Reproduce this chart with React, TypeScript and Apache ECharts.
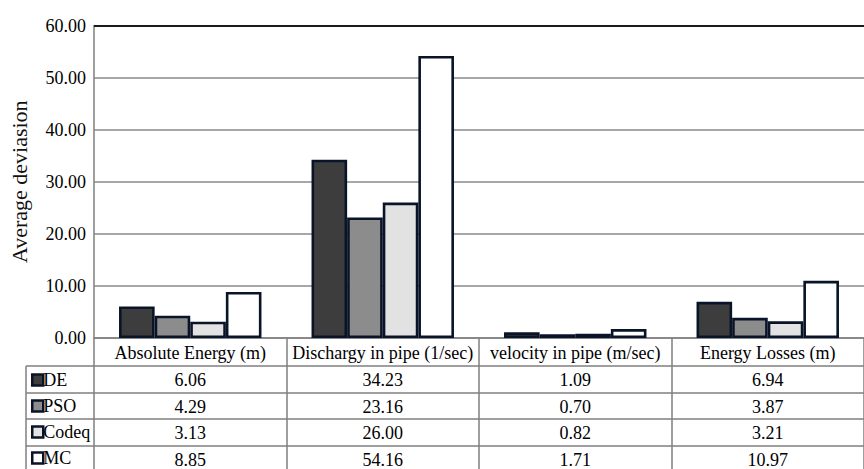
import React, { useEffect, useRef } from "react";
import * as echarts from "echarts";

const categories = [
  "Absolute Energy (m)",
  "Dischargy in pipe (1/sec)",
  "velocity in pipe (m/sec)",
  "Energy Losses (m)",
];
const seriesNames = ["DE", "PSO", "Codeq", "MC"];
const deValues = [6.06, 34.23, 1.09, 6.94];
const psoValues = [4.29, 23.16, 0.7, 3.87];
const codeqValues = [3.13, 26.0, 0.82, 3.21];
const mcValues = [8.85, 54.16, 1.71, 10.97];
const yTicks = [0, 10, 20, 30, 40, 50, 60];

const seriesValues = [deValues, psoValues, codeqValues, mcValues];
const fills = ["#3d3d3d", "#8c8c8c", "#e2e2e2", "#ffffff"];

const FONT = "Liberation Serif";
const FS = 18;
const GRID_LEFT = 92;
const GRID_TOP = 25.5;
const GRID_BOTTOM_Y = 338;
const COL_W = 196;
const TABLE_LEFT = 26;
const ROW_TOPS = [366, 393, 419, 446];
const TABLE_BOTTOM = 472;
const LINE_COLOR = "#7f7f7f";
const BORDER = "#0a1428";

export default function App() {
  const ref = useRef<HTMLDivElement>(null);
  useEffect(() => {
    if (!ref.current) return;
    const chart = echarts.init(ref.current, undefined, { renderer: "svg" });
    const tableRight = GRID_LEFT + COL_W * categories.length;

    const valueAxes = seriesValues.map((vals, i) => ({
      type: "category" as const,
      gridIndex: 0,
      position: "bottom" as const,
      data: vals.map((v) => v.toFixed(2)),
      offset: ROW_TOPS[i] + 14 - 9 - GRID_BOTTOM_Y,
      axisLine: { show: false },
      axisTick: { show: false },
      splitLine: { show: false },
      axisLabel: {
        margin: 0,
        interval: 0,
        color: "#000",
        fontFamily: FONT,
        fontSize: FS,
      },
    }));

    const graphics: any[] = [];
    ROW_TOPS.forEach((y) => {
      graphics.push({
        type: "line",
        shape: { x1: TABLE_LEFT, y1: y, x2: tableRight, y2: y },
        style: { stroke: LINE_COLOR, lineWidth: 1.5 },
      });
    });
    graphics.push({
      type: "line",
      shape: { x1: TABLE_LEFT, y1: ROW_TOPS[0], x2: TABLE_LEFT, y2: TABLE_BOTTOM },
      style: { stroke: LINE_COLOR, lineWidth: 1.5 },
    });

    chart.setOption({
      animation: false,
      backgroundColor: "#ffffff",
      textStyle: { fontFamily: FONT, fontSize: FS, color: "#000" },
      grid: {
        left: GRID_LEFT,
        top: GRID_TOP,
        width: COL_W * categories.length,
        height: GRID_BOTTOM_Y - GRID_TOP,
        containLabel: false,
      },
      legend: {
        orient: "vertical",
        left: 31,
        top: ROW_TOPS[0] + 14 - 9,
        padding: 0,
        height: 120,
        itemWidth: 11,
        itemHeight: 11,
        itemGap: 8,
        icon: "rect",
        data: seriesNames,
        textStyle: {
          fontFamily: FONT,
          fontSize: FS,
          lineHeight: 18,
          color: "#000",
          padding: [0, 0, 0, -5],
        },
        itemStyle: { borderColor: BORDER, borderWidth: 2.5 },
      },
      xAxis: [
        {
          type: "category",
          data: categories,
          position: "bottom",
          boundaryGap: true,
          axisLine: { show: true, lineStyle: { color: LINE_COLOR, width: 1.5 } },
          axisTick: {
            show: true,
            alignWithLabel: false,
            length: TABLE_BOTTOM - GRID_BOTTOM_Y,
            lineStyle: { color: LINE_COLOR, width: 1.5 },
          },
          axisLabel: {
            margin: 6,
            interval: 0,
            color: "#000",
            fontFamily: FONT,
            fontSize: FS,
          },
        },
        ...valueAxes,
      ],
      yAxis: {
        type: "value",
        min: yTicks[0],
        max: yTicks[yTicks.length - 1],
        interval: 10,
        name: "Average deviasion",
        nameLocation: "middle",
        nameGap: 64,
        nameTextStyle: { fontFamily: FONT, fontSize: 22, color: "#111" },
        axisLine: { show: true, lineStyle: { color: LINE_COLOR, width: 1.5 } },
        axisTick: { show: false },
        axisLabel: {
          margin: 8,
          color: "#000",
          fontFamily: FONT,
          fontSize: FS,
          formatter: (v: number) => v.toFixed(2),
        },
        splitLine: { show: true, lineStyle: { color: "#8a8a8a", width: 1.5 } },
      },
      series: seriesNames.map((name, i) => ({
        name,
        type: "bar",
        xAxisIndex: 0,
        data: seriesValues[i],
        barGap: "0%",
        barCategoryGap: "26%",
        itemStyle: { color: fills[i], borderColor: BORDER, borderWidth: 2.6 },
        markLine:
          i === 0
            ? {
                silent: true,
                symbol: "none",
                label: { show: false },
                lineStyle: { color: "#1a1a1a", width: 2, type: "solid" },
                data: [{ yAxis: yTicks[yTicks.length - 1] }],
              }
            : undefined,
      })),
      graphic: graphics,
    });
    return () => chart.dispose();
  }, []);
  return (
    <div
      ref={ref}
      style={{ position: "absolute", left: 0, top: 0, width: 864, height: 469 }}
    />
  );
}
